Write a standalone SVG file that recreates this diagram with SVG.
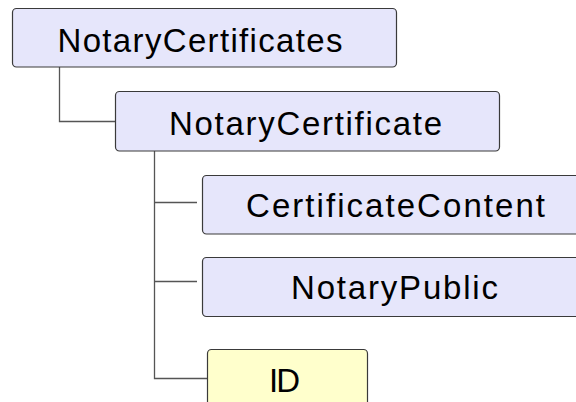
<svg xmlns="http://www.w3.org/2000/svg" width="576" height="402" viewBox="0 0 576 402">
  <style>
    .box { fill: #e6e6fb; stroke: #3a3a3a; stroke-width: 1.2; }
    .attr { fill: #ffffcc; stroke: #3a3a3a; stroke-width: 1.2; }
    .shadow { fill: none; stroke: #8a8a8a; stroke-width: 1.5; }
    .label { font-family: "Liberation Sans", Arial, sans-serif; font-size: 33px; fill: #000; text-anchor: middle; }
    .conn { fill: none; stroke: #555; stroke-width: 1.3; }
  </style>

  <!-- tree connectors -->
  <g id="connectors">
    <polyline class="conn" points="59.5,67 59.5,121.5 115,121.5"/>
    <polyline class="conn" points="154.5,151 154.5,378.5 207,378.5"/>
    <line class="conn" x1="154.5" y1="202.5" x2="197" y2="202.5"/>
    <line class="conn" x1="154.5" y1="281.5" x2="197" y2="281.5"/>
  </g>

  <g id="NotaryCertificates">
    <rect class="box" x="12.5" y="8.5" width="384" height="58.5" rx="4"/>
    <text class="label" x="200" y="52" textLength="285" lengthAdjust="spacing">NotaryCertificates</text>
  </g>

  <g id="NotaryCertificate">
    <rect class="box" x="115.5" y="91.5" width="384" height="59.5" rx="4"/>
    <text class="label" x="305.5" y="135" textLength="273" lengthAdjust="spacing">NotaryCertificate</text>
  </g>

  <g id="CertificateContent">
    <rect class="box" x="202.5" y="175.5" width="388" height="58.5" rx="4"/>
    <text class="label" x="395.5" y="217" textLength="299" lengthAdjust="spacing">CertificateContent</text>
  </g>

  <g id="NotaryPublic">
    <rect class="box" x="202.5" y="257.5" width="388" height="59" rx="4"/>
    <text class="label" x="394.5" y="299" textLength="207" lengthAdjust="spacing">NotaryPublic</text>
  </g>

  <g id="ID">
    <rect class="attr" x="207.5" y="349.5" width="160" height="60" rx="4"/>
    <text class="label" x="284.5" y="392" textLength="31" lengthAdjust="spacing">ID</text>
  </g>
</svg>
